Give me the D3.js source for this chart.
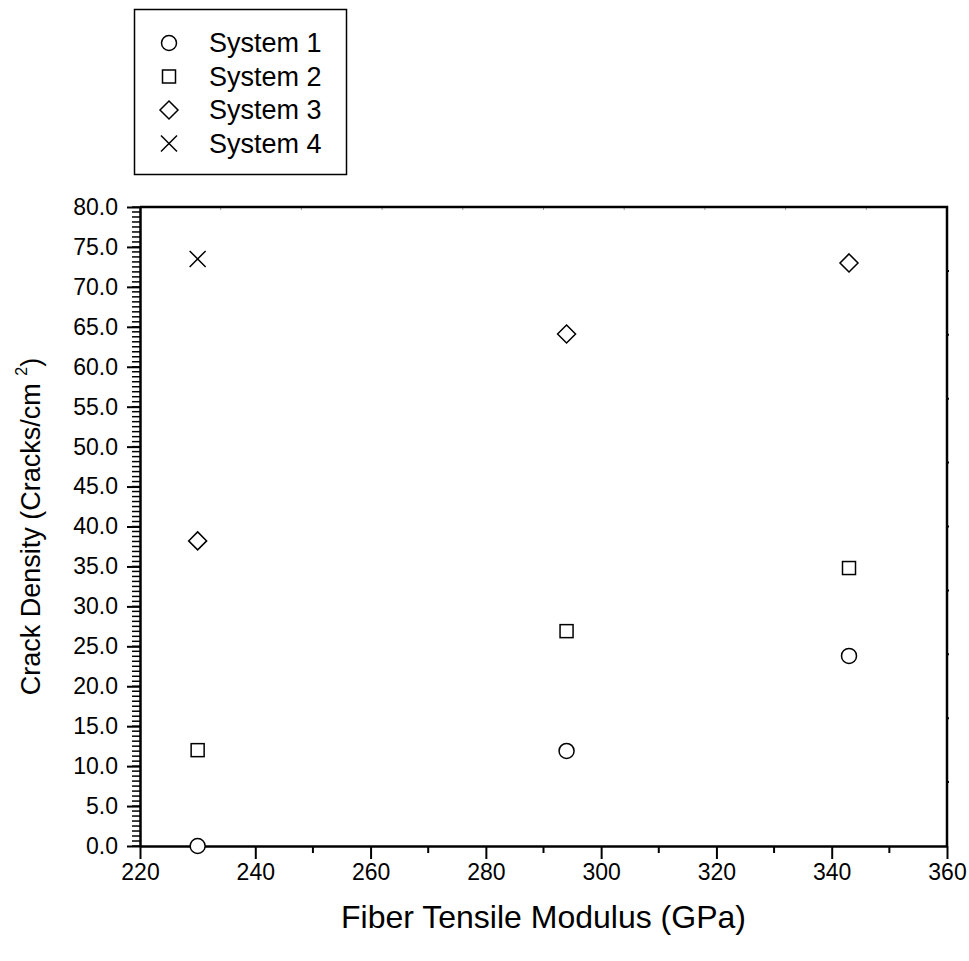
<!DOCTYPE html>
<html>
<head>
<meta charset="utf-8">
<script src="https://cdn.jsdelivr.net/npm/d3@7"></script>
<style>
  body { margin: 0; background: #fff; }
  text { font-family: "Liberation Sans", Arial, Helvetica, sans-serif; fill: #000; }
</style>
</head>
<body>
<div id="chart"></div>
<script>
var width = 969
var height = 961
var margin = {left: 140, right: 22, top: 207, bottom: 115}

// data
var modulus = [230, 294, 343]
var system1 = [0.0, 11.9, 23.8]
var system2 = [12.0, 26.9, 34.8]
var system3 = [38.2, 64.1, 73.0]
var system4 = [73.5]
var seriesNames = ['System 1', 'System 2', 'System 3', 'System 4']
var seriesValues = [system1, system2, system3, system4]
var seriesSymbols = ['circle', 'square', 'diamond', 'cross']

var xTicks = [220, 240, 260, 280, 300, 320, 340, 360]
var yTicks = d3.range(0, 80.01, 5)

var x = d3.scaleLinear().domain([220, 360]).range([margin.left, width - margin.right])
var y = d3.scaleLinear().domain([0, 80]).range([height - margin.bottom, margin.top])

var svg = d3.select('#chart').append('svg')
    .attr('width', width)
    .attr('height', height)

// minor ticks first, so the axis lines sit on top
var minorY = d3.range(0, 80.001, 0.625)
svg.append('g').selectAll('line').data(minorY).join('line')
    .attr('x1', x(220) - 8).attr('x2', x(220))
    .attr('y1', d => y(d)).attr('y2', d => y(d))
    .attr('stroke', '#000').attr('stroke-width', 1.5)

var minorX = d3.range(230, 360, 20)
svg.append('g').selectAll('line').data(minorX).join('line')
    .attr('x1', d => x(d)).attr('x2', d => x(d))
    .attr('y1', y(0)).attr('y2', y(0) + 7)
    .attr('stroke', '#000').attr('stroke-width', 2)

// mirror ticks on top and right
svg.append('g').selectAll('line').data(d3.range(1, 10)).join('line')
    .attr('x1', d => x(220 + d * 14)).attr('x2', d => x(220 + d * 14))
    .attr('y1', y(80)).attr('y2', y(80) + 3)
    .attr('stroke', '#999').attr('stroke-width', 1)
svg.append('g').selectAll('line').data(d3.range(1, 10)).join('line')
    .attr('x1', x(360)).attr('x2', x(360) + 2)
    .attr('y1', d => y(d * 8)).attr('y2', d => y(d * 8))
    .attr('stroke', '#000').attr('stroke-width', 2)

var xAxis = svg.append('g')
    .attr('transform', `translate(0,${y(0)})`)
    .call(d3.axisBottom(x).tickValues(xTicks).tickSize(13).tickPadding(5).tickSizeOuter(0))
xAxis.select('.domain').attr('stroke-width', 2.5)
xAxis.selectAll('.tick line').attr('stroke-width', 2)
xAxis.selectAll('text').attr('font-size', 23)

var yAxis = svg.append('g')
    .attr('transform', `translate(${x(220)},0)`)
    .call(d3.axisLeft(y).tickValues(yTicks).tickFormat(d3.format('.1f')).tickSize(13).tickPadding(9).tickSizeOuter(0))
yAxis.select('.domain').attr('stroke-width', 2.5)
yAxis.selectAll('.tick line').attr('stroke-width', 2)
yAxis.selectAll('text').attr('font-size', 23)

// frame top and right
svg.append('path')
    .attr('d', `M${x(220)},${y(80)}H${x(360)}V${y(0)}`)
    .attr('fill', 'none').attr('stroke', '#000').attr('stroke-width', 2.5)

// axis titles
svg.append('text')
    .attr('x', (x(220) + x(360)) / 2).attr('y', 928)
    .attr('text-anchor', 'middle').attr('font-size', 32)
    .text('Fiber Tensile Modulus (GPa)')

var yTitle = svg.append('text')
    .attr('transform', `translate(40,${(y(0) + y(80)) / 2}) rotate(-90)`)
    .attr('text-anchor', 'middle').attr('font-size', 27)
yTitle.append('tspan').text('Crack Density (Cracks/cm  ')
yTitle.append('tspan').attr('font-size', 16).attr('dy', -13).text('2')
yTitle.append('tspan').attr('dy', 13).text(')')

function drawSymbol(g, type, cx, cy) {
    if (type === 'circle') {
        g.append('circle').attr('cx', cx).attr('cy', cy).attr('r', 7.5)
            .attr('fill', '#fff').attr('stroke', '#000').attr('stroke-width', 1.5)
    } else if (type === 'square') {
        g.append('rect').attr('x', cx - 6.5).attr('y', cy - 6.5).attr('width', 13).attr('height', 13)
            .attr('fill', '#fff').attr('stroke', '#000').attr('stroke-width', 1.5)
    } else if (type === 'diamond') {
        g.append('path').attr('d', `M${cx},${cy - 9}L${cx + 9},${cy}L${cx},${cy + 9}L${cx - 9},${cy}Z`)
            .attr('fill', '#fff').attr('stroke', '#000').attr('stroke-width', 1.5)
    } else {
        g.append('path').attr('d', `M${cx - 8},${cy - 8}L${cx + 8},${cy + 8}M${cx - 8},${cy + 8}L${cx + 8},${cy - 8}`)
            .attr('fill', 'none').attr('stroke', '#000').attr('stroke-width', 1.5)
    }
}

var marks = svg.append('g')
seriesValues.forEach(function(vals, i) {
    vals.forEach(function(v, j) {
        drawSymbol(marks, seriesSymbols[i], x(modulus[j]), y(v))
    })
})

// legend
var legend = svg.append('g')
legend.append('rect')
    .attr('x', 134.5).attr('y', 9.5).attr('width', 212).attr('height', 165)
    .attr('fill', '#fff').attr('stroke', '#000').attr('stroke-width', 1.5)
seriesNames.forEach(function(name, i) {
    var cy = 43 + i * 33.5
    drawSymbol(legend, seriesSymbols[i], 169, cy)
    legend.append('text')
        .attr('x', 209).attr('y', cy).attr('dy', '0.35em')
        .attr('font-size', 27)
        .text(name)
})
</script>
</body>
</html>
